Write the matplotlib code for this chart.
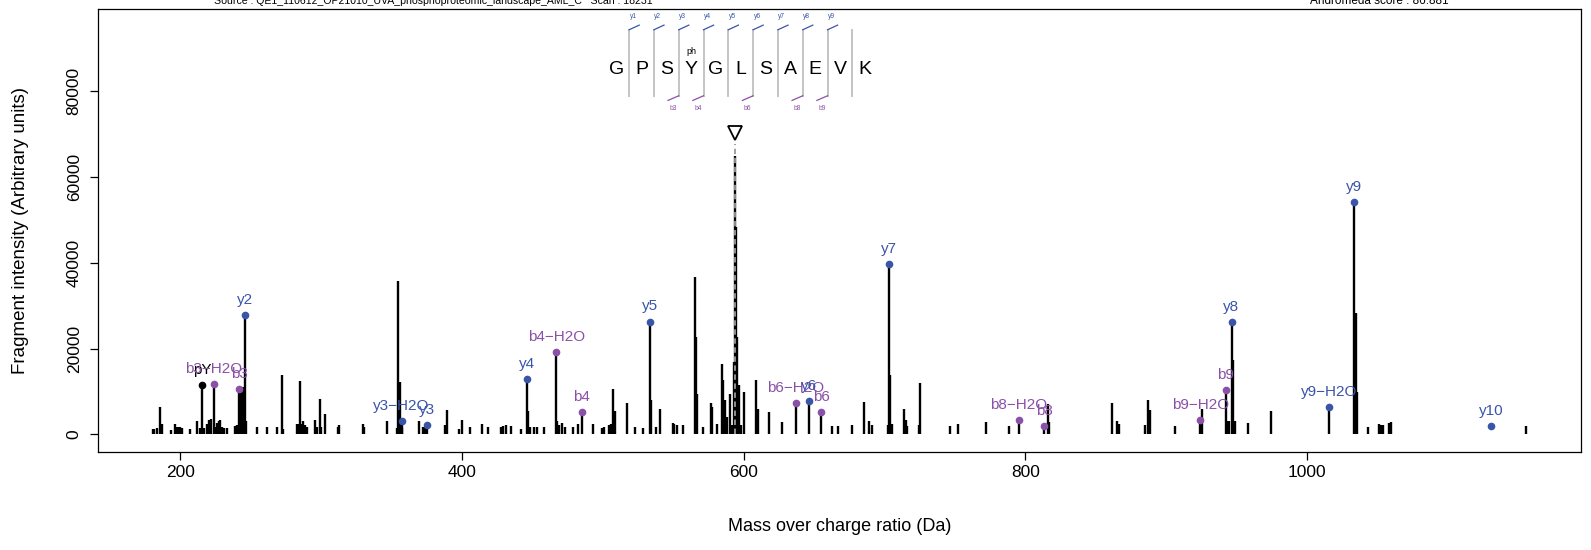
import matplotlib
matplotlib.use("Agg")
import matplotlib.pyplot as plt

plt.rcParams['font.family'] = ['Liberation Sans', 'DejaVu Sans']

# spectrum peaks (m/z, intensity)
peak_mz = [180.8, 181.7, 183.6, 185.5, 186.4, 187.4, 193.8, 196.6, 197.8, 199.0,
           200.1, 201.3, 207.2, 212.0, 214.3, 215.9, 216.7, 219.1, 220.7, 222.1,
           224.1, 225.2, 226.1, 227.3, 228.5, 229.9, 230.9, 233.2, 239.1, 240.3,
           242.1, 243.4, 244.3, 246.2, 247.0, 254.5, 261.6, 268.7, 272.2, 273.4,
           282.9, 284.1, 284.8, 286.4, 287.6, 288.8, 290.0, 295.9, 297.1, 299.0,
           300.1, 303.0, 312.0, 312.9, 329.7, 330.6, 346.7, 353.8, 355.0, 356.0,
           357.2, 357.8, 369.9, 372.7, 373.9, 375.2, 388.1, 389.7, 398.0, 399.9,
           405.8, 414.1, 418.8, 427.6, 429.5, 431.4, 434.9, 442.0, 446.3, 447.2,
           448.4, 451.5, 453.6, 458.3, 467.1, 467.8, 468.9, 470.8, 473.2, 479.1,
           482.6, 485.1, 493.3, 499.2, 500.9, 504.6, 505.6, 507.6, 508.7, 516.9,
           522.9, 528.3, 533.3, 534.4, 537.5, 540.6, 549.6, 550.8, 552.4, 556.7,
           565.3, 566.2, 566.6, 571.3, 576.7, 577.9, 580.8, 584.5, 585.5, 586.7,
           587.9, 590.4, 591.9, 593.3, 594.1, 594.9, 595.5, 596.6, 598.5, 600.4,
           609.1, 610.2, 618.1, 627.3, 637.2, 646.4, 655.2, 663.1, 667.1, 677.0,
           685.3, 689.1, 691.2, 702.5, 703.4, 704.2, 705.6, 714.1, 715.0, 716.0,
           724.3, 725.5, 746.3, 752.2, 771.8, 788.1, 795.3, 813.3, 816.4, 817.1,
           861.6, 865.2, 866.3, 885.3, 887.4, 888.6, 906.3, 924.3, 925.2, 942.4,
           943.2, 944.4, 946.4, 947.3, 948.6, 958.3, 974.4, 1015.5, 1033.5, 1034.5,
           1035.5, 1043.4, 1051.2, 1052.4, 1053.6, 1058.3, 1059.5, 1155.4]
peak_int = [1200, 1200, 1400, 6300, 2200, 2300, 1000, 2400, 1800, 1800,
            1600, 1400, 1300, 3000, 1400, 11500, 1400, 2300, 3300, 3500,
            11650, 1800, 2700, 3200, 3300, 1800, 1400, 1400, 2000, 2200,
            10500, 11100, 11100, 27800, 3200, 1600, 1600, 1600, 13800, 1200,
            2300, 2300, 12400, 2300, 3100, 2200, 1600, 3300, 1800, 8200,
            1800, 4700, 1800, 2200, 2400, 1800, 3200, 1400, 35700, 12300,
            3100, 1400, 3200, 1600, 1800, 2250, 2200, 5700, 1200, 3300,
            1600, 2300, 1600, 1800, 1900, 2200, 1900, 1200, 12800, 5400,
            1800, 1600, 1600, 1600, 19100, 3200, 2200, 2600, 1800, 1800,
            2300, 5300, 2300, 1500, 1800, 2200, 2400, 10500, 5500, 7400,
            1800, 1500, 26300, 8100, 1600, 5800, 2600, 2400, 2200, 2200,
            36700, 22600, 9500, 1800, 7400, 6300, 2300, 16300, 12600, 8000,
            4100, 9400, 2200, 16900, 64800, 48400, 22700, 11500, 2200, 9800,
            12600, 5900, 5300, 2900, 7400, 7800, 5300, 2000, 2000, 2200,
            7600, 3200, 2200, 2200, 39800, 13800, 2400, 5900, 3300, 1900,
            2200, 11900, 1900, 2400, 2900, 1900, 3300, 2000, 7000, 2800,
            7200, 3100, 2500, 2200, 7900, 5700, 1950, 3300, 6000, 10300,
            3000, 3000, 26100, 17300, 3000, 2700, 5400, 6400, 54200, 28400,
            9900, 1800, 2300, 2200, 2200, 2600, 2800, 1950]

# annotated fragment ions
ion_labels = ['pY', 'b3\u2212H2O', 'b3', 'y2', 'y3\u2212H2O', 'y3', 'y4', 'b4\u2212H2O',
              'b4', 'y5', 'b6\u2212H2O', 'y6', 'b6', 'y7', 'b8\u2212H2O', 'b8',
              'b9\u2212H2O', 'b9', 'y8', 'y9\u2212H2O', 'y9', 'y10']
ion_mz = [215.9, 224.1, 242.1, 246.2, 357.2, 375.2, 446.3, 467.1,
          485.1, 533.3, 637.2, 646.4, 655.2, 703.4, 795.3, 813.3,
          924.3, 942.4, 946.4, 1015.5, 1033.5, 1130.5]
ion_int = [11500, 11650, 10500, 27800, 3100, 2250, 12800, 19100,
           5300, 26300, 7400, 7800, 5300, 39800, 3300, 2000,
           3300, 10300, 26100, 6400, 54200, 2000]
ion_type = ['i', 'b', 'b', 'y', 'y', 'y', 'y', 'b',
            'b', 'y', 'b', 'y', 'b', 'y', 'b', 'b',
            'b', 'b', 'y', 'y', 'y', 'y']

precursor_mz = 594.27
precursor_mark = 70200

sequence = list("GPSYGLSAEVK")
y_sites = [1, 2, 3, 4, 5, 6, 7, 8, 9]
b_sites = [3, 4, 6, 8, 9]
mod_pos = 3
mod_label = 'ph'

blue = '#3a55a8'
purple = '#8b50a8'
colors = {'y': blue, 'b': purple, 'i': 'black'}

fig = plt.figure(figsize=(15.91, 5.5), dpi=100)
ax = fig.add_axes([98.4 / 1591, 1 - 451.5 / 550, (1581 - 98.4) / 1591, (451.5 - 8.5) / 550])

ax.vlines(peak_mz, 0, peak_int, color='black', lw=1.7, capstyle='butt')
ax.vlines(precursor_mz, 0, precursor_mark - 2500, color='#999999', lw=1.3,
          linestyles=(0, (3, 2)))
ax.plot(precursor_mz, precursor_mark, marker='v', mfc='none', mec='black', ms=10, mew=1.3)

for lab, x, y, t in zip(ion_labels, ion_mz, ion_int, ion_type):
    c = colors[t]
    ax.plot(x, y, 'o', color=c, ms=4.5, zorder=3)
    ax.annotate(lab, (x, y), xytext=(0, 8), textcoords='offset points',
                ha='center', va='baseline', color=c, fontsize=11)

# peptide sequence with fragment coverage
x0, step, yc = 0.3496, 0.01673, 0.8628
top, bot = 0.952, 0.803
for i, aa in enumerate(sequence):
    ax.text(x0 + i * step, yc, aa, transform=ax.transAxes, ha='center', va='center',
            fontsize=14)
for i in range(1, len(sequence)):
    sx = x0 + (i - 0.5) * step
    ax.plot([sx, sx], [bot, top], transform=ax.transAxes, color='#c4c4c4', lw=1.4,
            clip_on=False)
for k in y_sites:
    sx = x0 + (k - 0.5) * step
    ax.plot([sx, sx + 0.0068], [top, top + 0.0105], transform=ax.transAxes, color=blue,
            lw=0.9, clip_on=False)
    ax.text(sx + 0.0027, 0.9817, 'y%d' % k, transform=ax.transAxes, ha='center',
            va='center', fontsize=4.8, color=blue)
for k in b_sites:
    sx = x0 + (k - 0.5) * step
    ax.plot([sx, sx - 0.0072], [bot, bot - 0.0105], transform=ax.transAxes, color=purple,
            lw=0.9, clip_on=False)
    ax.text(sx - 0.0038, 0.7735, 'b%d' % k, transform=ax.transAxes, ha='center',
            va='center', fontsize=4.8, color=purple)
ax.text(x0 + mod_pos * step, 0.902, mod_label, transform=ax.transAxes, ha='center',
        va='center', fontsize=6.5)

ax.set_xlim(142.0, 1194.5)
ax.set_ylim(-4000, 99300)
ax.set_xticks([200, 400, 600, 800, 1000])
ax.set_yticks([0, 20000, 40000, 60000, 80000])
ax.tick_params(axis='both', direction='out', length=6, width=0.9, labelsize=12.5)
ax.tick_params(axis='x', pad=4)
ax.tick_params(axis='y', labelrotation=90, pad=6)
for lbl in ax.get_yticklabels():
    lbl.set_va('center')
for s in ax.spines.values():
    s.set_linewidth(0.9)
ax.set_xlabel('Mass over charge ratio (Da)', fontsize=13, labelpad=27)
ax.set_ylabel('Fragment intensity (Arbitrary units)', fontsize=13.5, labelpad=27)

fig.text(433.5 / 1591, 1 - 4.5 / 550, 'Source : QE1_110612_OP21010_UVA_phosphoproteomic_landscape_AML_C   Scan : 18231',
         ha='center', va='baseline', fontsize=7.6)
fig.text(1379 / 1591, 1 - 4.5 / 550, 'Andromeda score : 86.881', ha='center',
         va='baseline', fontsize=8.5)

fig.savefig('out.png', dpi=100)
